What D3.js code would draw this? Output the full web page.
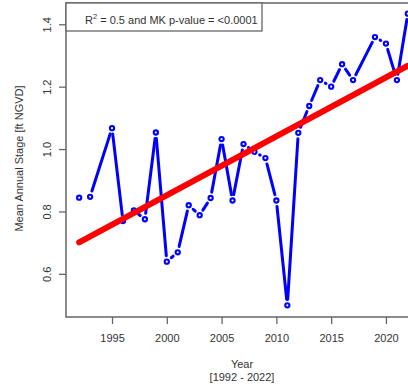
<!DOCTYPE html>
<html>
<head>
<meta charset="utf-8">
<script src="https://cdn.jsdelivr.net/npm/d3@7"></script>
<style>
  html, body { margin: 0; padding: 0; background: #fff; }
  svg { display: block; font-family: "Liberation Sans", Arial, sans-serif; }
</style>
</head>
<body>
<svg id="chart" width="408" height="386"></svg>
<script>
// Mean annual stage by year (2018 has no record)
const years = [1992, 1993, 1995, 1996, 1997, 1998, 1999, 2000, 2001, 2002, 2003,
               2004, 2005, 2006, 2007, 2008, 2009, 2010, 2011, 2012, 2013, 2014,
               2015, 2016, 2017, 2019, 2020, 2021, 2022];
const stage = [0.844, 0.847, 1.067, 0.769, 0.803, 0.775, 1.053, 0.639, 0.669, 0.820, 0.788,
               0.843, 1.032, 0.835, 1.016, 0.991, 0.971, 0.835, 0.499, 1.052, 1.138, 1.221,
               1.200, 1.272, 1.221, 1.359, 1.338, 1.221, 1.434];

// Linear trend fitted over the record
const trendYears = [1992, 2022];
const trendStage = [0.701, 1.267];

const xTicks = [1995, 2000, 2005, 2010, 2015, 2020];
const yTicks = [0.6, 0.8, 1.0, 1.2, 1.4];

const legendText = { pre: "R", sup: "2", post: " = 0.5 and MK p-value = <0.0001" };
const xTitle = "Year";
const xSubtitle = "[1992 - 2022]";
const yTitle = "Mean Annual Stage [ft NGVD]";

const svg = d3.select("#chart");
const plot = { left: 66, top: 2, bottom: 317, right: 421 };
const textColor = "#333";
const frameColor = "#666";

// 4% padding on each side of the data range
function padded(ext) {
  const d = (ext[1] - ext[0]) * 0.04;
  return [ext[0] - d, ext[1] + d];
}
const x = d3.scaleLinear().domain(padded(d3.extent(years))).range([plot.left, plot.right]);
const y = d3.scaleLinear().domain(padded(d3.extent(stage))).range([plot.bottom, plot.top]);

const clipId = "plotClip";
svg.append("clipPath").attr("id", clipId)
  .append("rect")
  .attr("x", plot.left).attr("y", plot.top)
  .attr("width", plot.right - plot.left).attr("height", plot.bottom - plot.top);

const pts = years.map((yr, i) => ({ px: x(yr), py: y(stage[i]) }));

// Connecting segments, trimmed short of each marker
const gap = 6;
const segs = [];
for (let i = 0; i < pts.length - 1; i++) {
  const a = pts[i], b = pts[i + 1];
  const dx = b.px - a.px, dy = b.py - a.py;
  const len = Math.hypot(dx, dy);
  if (len <= 2 * gap) continue;
  const ux = dx / len, uy = dy / len;
  segs.push({ x1: a.px + ux * gap, y1: a.py + uy * gap, x2: b.px - ux * gap, y2: b.py - uy * gap });
}

const g = svg.append("g").attr("clip-path", `url(#${clipId})`);

g.selectAll("line.seg").data(segs).join("line")
  .attr("class", "seg")
  .attr("x1", d => d.x1).attr("y1", d => d.y1)
  .attr("x2", d => d.x2).attr("y2", d => d.y2)
  .attr("stroke", "#0000ff").attr("stroke-width", 3)
  .attr("stroke-linecap", "round");

g.selectAll("circle.pt").data(pts).join("circle")
  .attr("class", "pt")
  .attr("cx", d => d.px).attr("cy", d => d.py)
  .attr("r", 2.1)
  .attr("fill", "none").attr("stroke", "#0000ff").attr("stroke-width", 2.1);

// Trend line
g.append("path")
  .datum(trendYears.map((yr, i) => [yr, trendStage[i]]))
  .attr("d", d3.line().x(d => x(d[0])).y(d => y(d[1])))
  .attr("fill", "none").attr("stroke", "#ff0000")
  .attr("stroke-width", 6).attr("stroke-linecap", "round");

// Axes
const xAxis = svg.append("g")
  .attr("transform", `translate(0,${plot.bottom})`)
  .call(d3.axisBottom(x).tickValues(xTicks).tickFormat(d3.format("d")).tickSize(7));
xAxis.select(".domain").remove();
xAxis.selectAll("line").attr("stroke", frameColor).attr("stroke-width", 1.3);
xAxis.selectAll("text")
  .attr("y", 25).attr("dy", 0)
  .attr("fill", textColor)
  .style("font-size", "11px")
  .style("font-family", "Liberation Sans, Arial, sans-serif");

const yAxis = svg.append("g")
  .attr("transform", `translate(${plot.left},0)`)
  .call(d3.axisLeft(y).tickValues(yTicks).tickFormat(d3.format(".1f")).tickSize(7));
yAxis.select(".domain").remove();
yAxis.selectAll("line").attr("stroke", frameColor).attr("stroke-width", 1.3);
yAxis.selectAll("text")
  .attr("x", 0).attr("dy", 0)
  .attr("transform", "translate(-15,0) rotate(-90)")
  .attr("text-anchor", "middle")
  .attr("fill", textColor)
  .style("font-size", "11px")
  .style("font-family", "Liberation Sans, Arial, sans-serif");

// Plot frame
svg.append("rect")
  .attr("x", plot.left).attr("y", plot.top + 1)
  .attr("width", plot.right - plot.left).attr("height", plot.bottom - plot.top - 1)
  .attr("fill", "none").attr("stroke", frameColor).attr("stroke-width", 1.5);

// Legend box
const lg = svg.append("g");
lg.append("rect")
  .attr("x", plot.left).attr("y", plot.top + 1)
  .attr("width", 196).attr("height", 28)
  .attr("fill", "#fff").attr("stroke", frameColor).attr("stroke-width", 1.3);
const lt = lg.append("text")
  .attr("x", 85).attr("y", 24)
  .attr("fill", textColor)
  .style("font-size", "11px");
lt.append("tspan").text(legendText.pre);
lt.append("tspan").attr("dy", -5).style("font-size", "7.5px").text(legendText.sup);
lt.append("tspan").attr("dy", 5).text(legendText.post);

// Axis titles
const midX = (plot.left + plot.right) / 2 - 1.5;
svg.append("text")
  .attr("x", midX).attr("y", 368)
  .attr("text-anchor", "middle").attr("fill", textColor)
  .style("font-size", "11px").text(xTitle);
svg.append("text")
  .attr("x", midX).attr("y", 381)
  .attr("text-anchor", "middle").attr("fill", textColor)
  .style("font-size", "11px").text(xSubtitle);
svg.append("text")
  .attr("transform", `translate(23,${(plot.top + plot.bottom) / 2 - 1}) rotate(-90)`)
  .attr("text-anchor", "middle").attr("fill", textColor)
  .style("font-size", "11px").text(yTitle);
</script>
</body>
</html>
